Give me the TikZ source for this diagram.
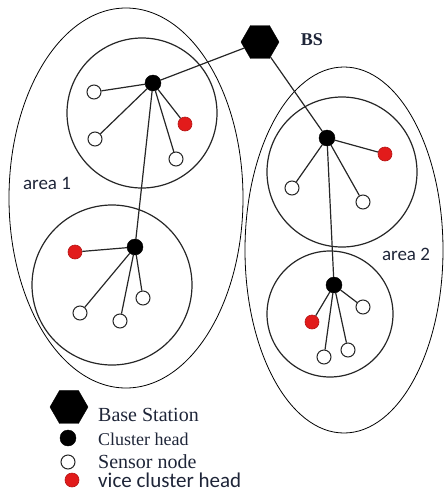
\documentclass[tikz,border=0pt]{standalone}
\usepackage{fontspec}
\setmainfont{Liberation Serif}
\newfontfamily\areafont{Carlito}
\usetikzlibrary{shapes.geometric}
\definecolor{vicered}{HTML}{E21B1B}
\definecolor{labelink}{HTML}{1E2538}
\tikzset{
  area/.style={draw=black, line width=0.8pt},
  cluster/.style={draw=black!85, line width=1.2pt},
  link/.style={draw=black!85, line width=1.2pt},
  basestation/.style={regular polygon, regular polygon sides=6, fill=black, draw=black, minimum size=38pt, inner sep=0pt},
  head/.style={circle, fill=black, draw=black, minimum size=16pt, inner sep=0pt},
  sensor/.style={circle, fill=white, draw=black!85, line width=1pt, minimum size=14pt, inner sep=0pt},
  vice/.style={circle, fill=vicered, draw=vicered!80!black, line width=0.6pt, minimum size=14pt, inner sep=0pt},
  arealabel/.style={font=\areafont\fontsize{19}{22}\selectfont, text=labelink, inner sep=0pt},
  legendtext/.style={anchor=west, text=labelink, inner sep=0pt}
}
\begin{document}
\begin{tikzpicture}[x=1pt, y=-1pt]
\useasboundingbox (0,0) rectangle (445,491);

% the two areas
\draw[area] (126,198) ellipse [x radius=117, y radius=190];
\draw[area] (344,250) ellipse [x radius=99, y radius=183];

% cluster boundaries
\draw[cluster] (142,113) circle [radius=75];
\draw[cluster] (112,285) circle [radius=80];
\draw[cluster] (342,172) circle [radius=75];
\draw[cluster] (330,314) circle [radius=63];

% base station
\node[basestation] (bs) at (260,42) {};
\node[font=\bfseries\fontsize{18}{20}\selectfont, text=labelink, inner sep=0pt] (bslabel) at (312,40) {BS};

% cluster heads
\node[head] (ch1) at (153,83) {};
\node[head] (ch2) at (327,138) {};
\node[head] (ch3) at (135,247) {};
\node[head] (ch4) at (334,285) {};

% cluster 1 members
\node[sensor] (s11) at (94,92) {};
\node[sensor] (s12) at (95,139) {};
\node[sensor] (s13) at (176,159) {};
\node[vice]   (v1)  at (185,124) {};

% cluster 2 members
\node[sensor] (s21) at (292,188) {};
\node[sensor] (s22) at (363,202) {};
\node[vice]   (v2)  at (385,154) {};

% cluster 3 members
\node[sensor] (s31) at (80,313) {};
\node[sensor] (s32) at (120,321) {};
\node[sensor] (s33) at (143,298) {};
\node[vice]   (v3)  at (75,252) {};

% cluster 4 members
\node[sensor] (s41) at (363,307) {};
\node[sensor] (s42) at (324,357) {};
\node[sensor] (s43) at (348,350) {};
\node[vice]   (v4)  at (312,322) {};

% links: base station to heads, head to head, heads to members
\draw[link] (bs) -- (ch1);
\draw[link] (bs) -- (ch2);
\draw[link] (ch1) -- (ch3);
\draw[link] (ch2) -- (ch4);
\foreach \m in {s11,s12,s13,v1} \draw[link] (ch1) -- (\m);
\foreach \m in {s21,s22,v2} \draw[link] (ch2) -- (\m);
\foreach \m in {s31,s32,s33,v3} \draw[link] (ch3) -- (\m);
\foreach \m in {s41,s42,s43,v4} \draw[link] (ch4) -- (\m);

% area labels
\node[arealabel] (a1) at (47,183) {area 1};
\node[arealabel] (a2) at (406,254) {area 2};

% legend
\node[basestation] (lbs) at (69,407) {};
\node[legendtext, font=\fontsize{20}{22}\selectfont] (lbst) at (98,415) {Base Station};
\node[head] (lch) at (68,438) {};
\node[legendtext, font=\fontsize{18}{20}\selectfont] (lcht) at (98,439) {Cluster head};
\node[sensor] (lsn) at (68,462) {};
\node[legendtext, font=\fontsize{20}{22}\selectfont] (lsnt) at (98,462) {Sensor node};
\node[vice] (lv) at (72,480) {};
\node[legendtext, font=\areafont\fontsize{21}{23}\selectfont] (lvt) at (98,480) {vice cluster head};
\end{tikzpicture}
\end{document}
